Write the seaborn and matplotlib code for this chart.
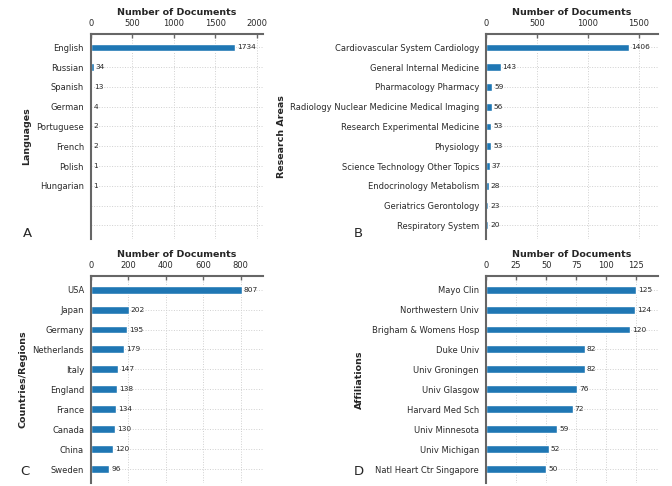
import matplotlib
matplotlib.use("Agg")
import matplotlib.pyplot as plt
import seaborn as sns
import pandas as pd

# Data
languages = ['English', 'Russian', 'Spanish', 'German', 'Portuguese', 'French', 'Polish', 'Hungarian']
language_docs = [1734, 34, 13, 4, 2, 2, 1, 1]

areas = ['Cardiovascular System Cardiology', 'General Internal Medicine', 'Pharmacology Pharmacy',
         'Radiology Nuclear Medicine Medical Imaging', 'Research Experimental Medicine', 'Physiology',
         'Science Technology Other Topics', 'Endocrinology Metabolism', 'Geriatrics Gerontology',
         'Respiratory System']
area_docs = [1406, 143, 59, 56, 53, 53, 37, 28, 23, 20]

countries = ['USA', 'Japan', 'Germany', 'Netherlands', 'Italy', 'England', 'France', 'Canada', 'China', 'Sweden']
country_docs = [807, 202, 195, 179, 147, 138, 134, 130, 120, 96]

affiliations = ['Mayo Clin', 'Northwestern Univ', 'Brigham & Womens Hosp', 'Duke Univ', 'Univ Groningen',
                'Univ Glasgow', 'Harvard Med Sch', 'Univ Minnesota', 'Univ Michigan', 'Natl Heart Ctr Singapore']
affiliation_docs = [125, 124, 120, 82, 82, 76, 72, 59, 52, 50]

sns.set_style("white")
plt.rcParams['font.family'] = ['DejaVu Sans']

W, H = 672, 486
fig = plt.figure(figsize=(W / 100, H / 100), dpi=100)

panels = [
    # names, values, ylabel, letter, axes rect, xlim, xticks, ylabel x, letter pos (px)
    (languages, language_docs, 'Languages', 'A', [0.1354, 0.508, 0.256, 0.422], 2075,
     [0, 500, 1000, 1500, 2000], -0.35, (23, 240)),
    (areas, area_docs, 'Research Areas', 'B', [0.7232, 0.508, 0.256, 0.422], 1690,
     [0, 500, 1000, 1500], -1.163, (354, 240)),
    (countries, country_docs, 'Countries/Regions', 'C', [0.1354, 0.006, 0.256, 0.426], 920,
     [0, 200, 400, 600, 800], -0.37, (20, 478)),
    (affiliations, affiliation_docs, 'Affiliations', 'D', [0.7232, 0.006, 0.256, 0.426], 143,
     [0, 25, 50, 75, 100, 125], -0.71, (354, 478)),
]

for names, vals, ylab, letter, rect, xmax, xt, ylx, lpos in panels:
    ax = fig.add_axes(rect)
    df = pd.DataFrame({'name': names, 'docs': vals})
    sns.barplot(data=df, y='name', x='docs', orient='h', color='#1f77b4', width=0.4,
                saturation=1, ax=ax)

    n = 10
    labels = list(names) + [''] * (n - len(names))
    ax.set_yticks(range(n))
    ax.set_yticklabels(labels, fontsize=6.0, color='#2a2a2a')
    ax.set_ylim(n - 0.3, -0.68)
    ax.set_xlim(0, xmax)
    ax.set_xticks(xt)

    ax.xaxis.tick_top()
    ax.xaxis.set_label_position('top')
    ax.set_xlabel('Number of Documents', fontsize=6.8, fontweight='bold', labelpad=3)
    ax.set_ylabel(ylab, fontsize=6.8, fontweight='bold')
    ax.yaxis.set_label_coords(ylx, 0.5)

    ax.tick_params(axis='x', direction='in', length=3, width=1, color='#666666',
                   labelsize=6.0, labelcolor='#2a2a2a', pad=4.5)
    ax.tick_params(axis='y', direction='out', length=3, width=1, color='#444444', pad=2)

    for side in ['right', 'bottom']:
        ax.spines[side].set_visible(False)
    for side in ['left', 'top']:
        ax.spines[side].set_color('#666666')
        ax.spines[side].set_linewidth(1.5)

    ax.grid(True, linestyle=':', color='#d0d0d0', linewidth=0.7)
    ax.set_axisbelow(True)

    for i, v in enumerate(vals):
        ax.text(v + xmax * 0.012, i, str(v), va='center', ha='left', fontsize=5.3, color='#262626')

    fig.text(lpos[0] / W, 1 - lpos[1] / H, letter, fontsize=9.5, ha='left', va='bottom')

fig.savefig('out.png', dpi=100)
